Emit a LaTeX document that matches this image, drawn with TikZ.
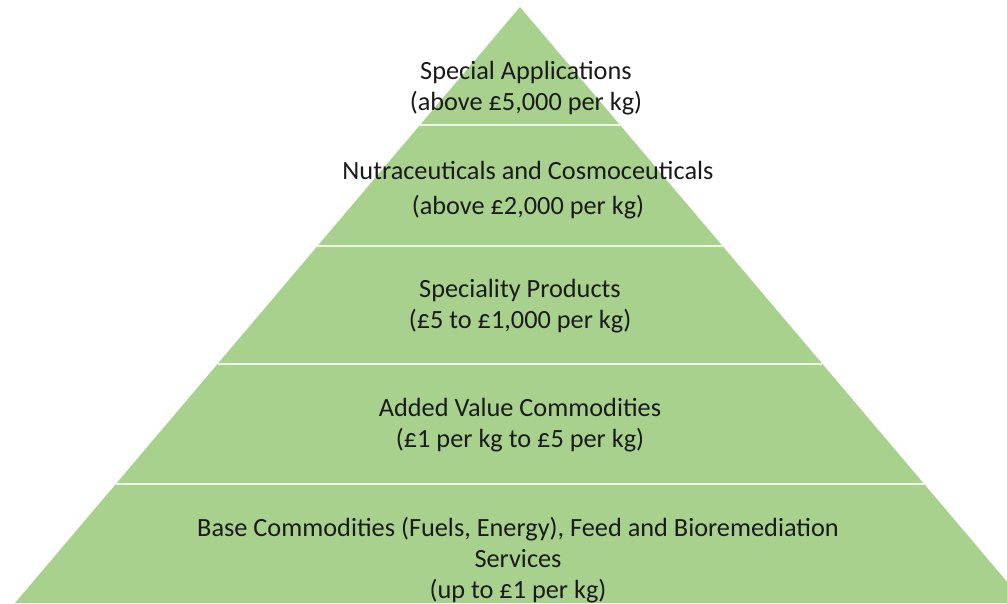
\documentclass[tikz,border=0pt]{standalone}
\usepackage{fontspec}
\setmainfont{Carlito}
\usetikzlibrary{calc}
\definecolor{pyrgreen}{HTML}{A9D18E}
\definecolor{txt}{HTML}{1A1A1A}
\begin{document}
\begin{tikzpicture}[x=1pt,y=-1pt,
  divider/.style={draw=white!80!pyrgreen,line width=2.2pt},
  tier/.style={text=txt,align=center,font=\fontsize{26.3}{31}\selectfont,inner sep=0pt}]
\useasboundingbox (0,0) rectangle (1007,603);
\clip (0,0) rectangle (1007,603);
\coordinate (apex) at (520,7);
\coordinate (bl) at (15,603);
\coordinate (br) at (1025,603);
\fill[pyrgreen] (apex) -- (br) -- (bl) -- cycle;
\foreach \y/\n in {125/a,246/b,364/c,484/d}{
  \pgfmathsetmacro{\t}{(\y-7)/596}
  \coordinate (l\n) at ($(apex)!\t!(bl)$);
  \coordinate (r\n) at ($(apex)!\t!(br)$);
  \draw[divider] (l\n) -- (r\n);
}
\node[tier] (t1) at (526,88) {Special Applications\\(above £5,000 per kg)};
\node[tier,font=\fontsize{26.3}{35}\selectfont] (t2) at (528,190) {Nutraceuticals and Cosmoceuticals\\(above £2,000 per kg)};
\node[tier] (t3) at (520,306) {Speciality Products\\(£5 to £1,000 per kg)};
\node[tier] (t4) at (520,425) {Added Value Commodities\\(£1 per kg to £5 per kg)};
\node[tier] (t5) at (518,560) {Base Commodities (Fuels, Energy), Feed and Bioremediation\\Services\\(up to £1 per kg)};
\end{tikzpicture}
\end{document}
